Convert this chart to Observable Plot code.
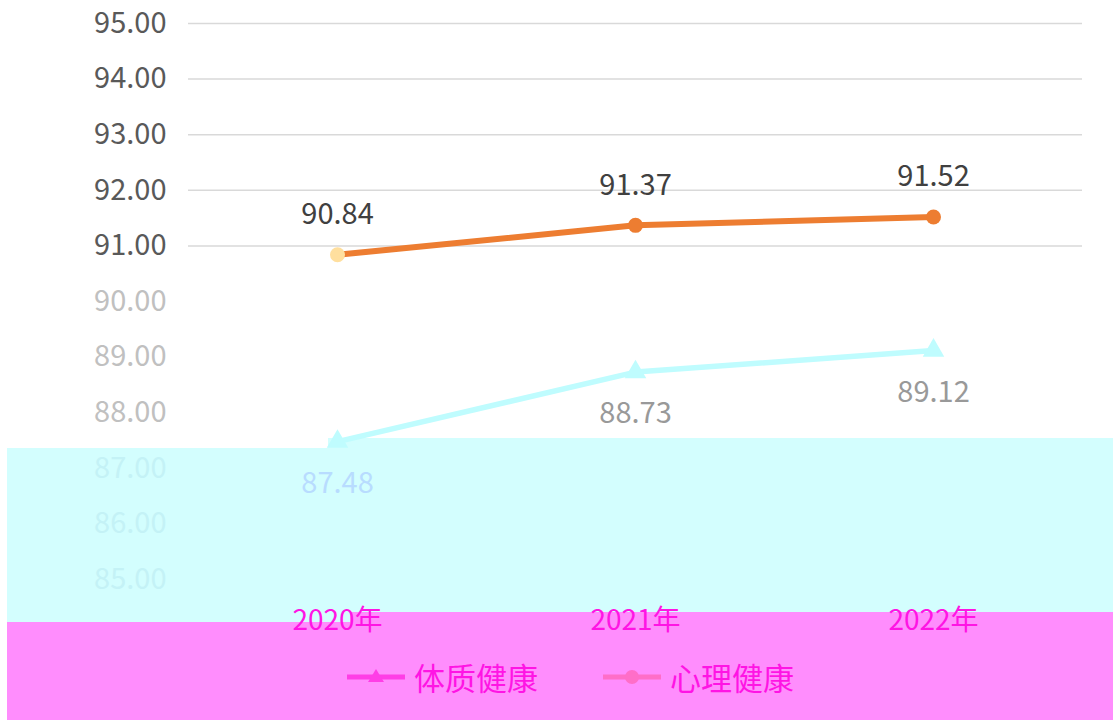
<!DOCTYPE html>
<html><head><meta charset="utf-8">
<script src="https://cdn.jsdelivr.net/npm/d3@7"></script>
<script src="https://cdn.jsdelivr.net/npm/@observablehq/plot@0.6"></script>
<style>
body{margin:0;background:#fff;font-family:"Noto Sans CJK SC",sans-serif}
#wrap{position:relative;width:1113px;height:723px;overflow:hidden}
#bg{position:absolute;left:0;top:0}
#chart{position:absolute;left:0;top:0}
#legend{position:absolute;left:347px;top:655px;display:flex;align-items:center;font-size:31px;line-height:44px;color:#ff14e4;white-space:nowrap}
#legend .item{display:flex;align-items:center}
#legend .item svg{display:block}
#legend .item span{margin-left:9px}
</style></head><body>
<div id="wrap">
<svg id="bg" width="1113" height="723">
<polygon points="7,448 328,448 328,438 1113,438 1113,612 350,612 350,622 7,622" fill="#d3fefe"/>
<polygon points="7,622 350,622 350,612 1113,612 1113,720 7,720" fill="#ff8dfd"/>
</svg>
<div id="chart"></div>
<div id="legend"></div>
</div>
<script>
const years = ["2020年", "2021年", "2022年"];
const physical = [87.48, 88.73, 89.12];
const mental = [90.84, 91.37, 91.52];
const seriesNames = ["体质健康", "心理健康"];
const yTicks = [85, 86, 87, 88, 89, 90, 91, 92, 93, 94, 95];

const phys = years.map((y, i) => ({year: y, value: physical[i]}));
const ment = years.map((y, i) => ({year: y, value: mental[i]}));
const tickColor = v => v >= 91 ? "#595959" : v >= 88 ? "#c0c0c0" : "#c4f2f6";

const chart = Plot.plot({
  width: 1113, height: 640,
  marginLeft: 188, marginRight: 31, marginTop: 23, marginBottom: 61,
  style: {fontFamily: '"Noto Sans CJK SC", sans-serif', background: "transparent", overflow: "visible"},
  x: {type: "point", domain: years, padding: 0.5, label: null},
  y: {domain: [85, 95], label: null},
  marks: [
    Plot.ruleY(yTicks.filter(v => v >= 91), {stroke: "#d9d9d9", strokeWidth: 1.5}),
    Plot.axisY(yTicks, {tickSize: 0, tickPadding: 22, fontSize: 29, tickFormat: d => d.toFixed(2), fill: d => tickColor(d), label: null}),
    Plot.axisX({tickSize: 0, tickPadding: 31, fontSize: 28, fill: "#ff14e4", label: null}),
    Plot.line(phys, {x: "year", y: "value", stroke: "#bffcfe", strokeWidth: 5.5}),
    Plot.dot(phys, {x: "year", y: "value", symbol: "triangle", r: 8, fill: "#bffcfe"}),
    Plot.line(ment, {x: "year", y: "value", stroke: "#ed7d31", strokeWidth: 6}),
    Plot.dot(ment, {x: "year", y: "value", r: 7.5, fill: (d, i) => i === 0 ? "#ffdf9e" : "#ed7d31"}),
    Plot.text(ment, {x: "year", y: "value", text: d => d.value.toFixed(2), dy: -40, fontSize: 29, fill: "#404040"}),
    Plot.text(phys, {x: "year", y: "value", text: d => d.value.toFixed(2), dy: 42, fontSize: 29, fill: (d, i) => i === 0 ? "#b8dcff" : "#999999"})
  ]
});
document.getElementById("chart").appendChild(chart);

const legendStyles = [
  {line: "#ff3ee6", sym: "triangle"},
  {line: "#ff6ec8", sym: "circle"}
];
const legend = document.getElementById("legend");
seriesNames.forEach((name, i) => {
  const item = document.createElement("div");
  item.className = "item";
  if (i > 0) item.style.marginLeft = "65px";
  const s = legendStyles[i];
  const marker = s.sym === "triangle"
    ? `<path d="M29,3 L37,16 L21,16 Z" fill="${s.line}"/>`
    : `<circle cx="29" cy="11" r="7" fill="${s.line}"/>`;
  item.innerHTML = `<svg width="58" height="22"><line x1="0" y1="11" x2="58" y2="11" stroke="${s.line}" stroke-width="5" stroke-linecap="round"/>${marker}</svg><span>${name}</span>`;
  legend.appendChild(item);
});
</script>
</body></html>
